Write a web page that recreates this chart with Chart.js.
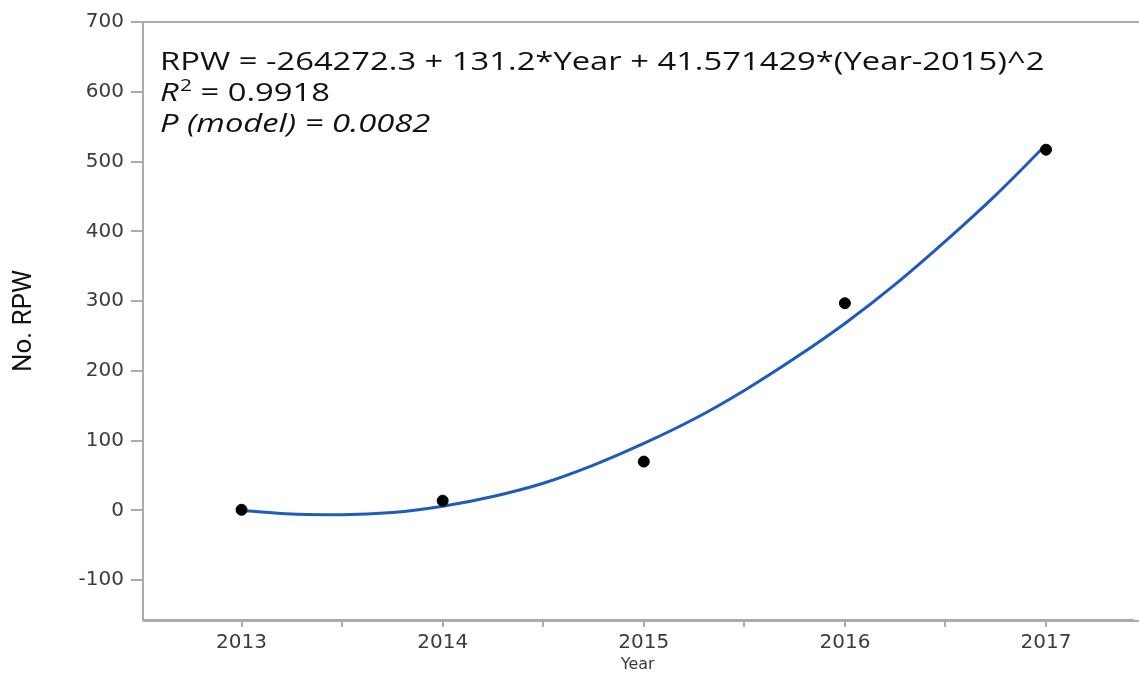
<!DOCTYPE html>
<html>
<head>
<meta charset="utf-8">
<script src="https://cdn.jsdelivr.net/npm/chart.js@4/dist/chart.umd.min.js"></script>
<style>
  html, body { margin: 0; padding: 0; background: #fff; overflow: hidden; }
  #wrap { width: 1139px; height: 675px; position: relative; }
  canvas { display: block; }
</style>
</head>
<body>
<div id="wrap"><canvas id="fitChart"></canvas></div>
<script>
// Observed counts per year
const years = [2013, 2014, 2015, 2016, 2017];
const rpwCounts = [1, 14, 70, 297, 517];

// Fitted curve at quarter-year steps
const curveYears = [2013, 2013.25, 2013.5, 2013.75, 2014, 2014.25, 2014.5, 2014.75, 2015,
                    2015.25, 2015.5, 2015.75, 2016, 2016.25, 2016.5, 2016.75, 2017];
const curveValues = [0, -5, -6, -3, 6, 20, 39, 65, 96, 131, 172, 218, 268, 324, 386, 452, 524];

const xTickValues = [2013, 2013.5, 2014, 2014.5, 2015, 2015.5, 2016, 2016.5, 2017];
const yTickValues = [-100, 0, 100, 200, 300, 400, 500, 600, 700];

const fitLines = [
    'RPW = -264272.3 + 131.2*Year + 41.571429*(Year-2015)^2',
    'R² = 0.9918',
    'P (model) = 0.0082'
];

const axisGrey = '#ababab';
const tickText = '#3b3b3b';

// Draws the frame lines out to the right edge and the fit summary text
const fitTextPlugin = {
    id: 'fitText',
    afterDraw(chart) {
        const ctx = chart.ctx;
        const area = chart.chartArea;
        ctx.save();
        ctx.strokeStyle = axisGrey;
        ctx.lineWidth = 2;
        ctx.beginPath();
        ctx.moveTo(area.left, area.top);
        ctx.lineTo(chart.width, area.top);
        ctx.moveTo(area.left, area.bottom + 1);
        ctx.lineTo(chart.width, area.bottom + 1);
        ctx.stroke();

        // the source text is a bit wider than any installed font, so stretch it
        ctx.translate(area.left + 17, 0);
        ctx.scale(1.31, 1);
        ctx.fillStyle = '#111';
        ctx.textBaseline = 'alphabetic';
        ctx.textAlign = 'left';
        ctx.font = '25px "Open Sans"';
        ctx.fillText(fitLines[0], 0, 70);

        // R^2 line: italic R, superscript 2
        ctx.font = 'italic 25px "Open Sans"';
        ctx.fillText('R', 0, 101);
        let w = ctx.measureText('R').width;
        ctx.font = '16px "Open Sans"';
        ctx.fillText('2', w + 1, 91);
        w += ctx.measureText('2').width + 1;
        ctx.font = '25px "Open Sans"';
        ctx.fillText(' = 0.9918', w, 101);

        ctx.font = 'italic 25px "Open Sans"';
        ctx.fillText(fitLines[2], 0, 132);
        ctx.restore();
    }
};

new Chart(document.getElementById('fitChart'), {
    type: 'scatter',
    data: {
        datasets: [
            {
                label: 'Fit',
                data: curveYears.map((yr, i) => ({ x: yr, y: curveValues[i] })),
                showLine: true,
                borderColor: '#1f5bbd',
                borderWidth: 3,
                pointRadius: 0,
                cubicInterpolationMode: 'monotone',
                order: 1
            },
            {
                label: 'No. RPW',
                data: years.map((yr, i) => ({ x: yr, y: rpwCounts[i] })),
                backgroundColor: '#000',
                borderColor: '#000',
                pointRadius: 5.5,
                order: 0
            }
        ]
    },
    options: {
        responsive: true,
        maintainAspectRatio: false,
        animation: false,
        layout: { padding: { left: 0, right: 0, top: 22, bottom: 0 } },
        plugins: {
            legend: { display: false },
            tooltip: { enabled: false }
        },
        scales: {
            x: {
                type: 'linear',
                min: 2012.51,
                max: 2017.43,
                afterBuildTicks: scale => { scale.ticks = xTickValues.map(v => ({ value: v })); },
                afterFit: scale => { scale.height = 55; scale.paddingRight = 0; scale.paddingLeft = 0; },
                border: { color: axisGrey, width: 2 },
                grid: { drawOnChartArea: false, drawTicks: true, tickLength: 7, color: axisGrey, lineWidth: 2 },
                ticks: {
                    color: tickText,
                    padding: 4,
                    font: { family: '"DejaVu Sans"', size: 20 },
                    callback: v => Number.isInteger(v) ? String(v) : ''
                },
                title: {
                    display: true,
                    text: 'Year',
                    color: tickText,
                    padding: { top: 0, bottom: 1 },
                    font: { family: '"DejaVu Sans"', size: 16 }
                }
            },
            y: {
                min: -157,
                max: 700,
                afterBuildTicks: scale => { scale.ticks = yTickValues.map(v => ({ value: v })); },
                afterFit: scale => { scale.width = 143; },
                border: { color: axisGrey, width: 2 },
                grid: { drawOnChartArea: false, drawTicks: true, tickLength: 12, color: axisGrey, lineWidth: 2 },
                ticks: {
                    color: tickText,
                    padding: 7,
                    font: { family: '"DejaVu Sans"', size: 20 }
                },
                title: {
                    display: true,
                    text: 'No. RPW',
                    color: '#111',
                    padding: { top: 9, bottom: 0 },
                    font: { family: '"Liberation Sans Narrow", "Roboto", sans-serif', size: 26 }
                }
            }
        }
    },
    plugins: [fitTextPlugin]
});
</script>
</body>
</html>
